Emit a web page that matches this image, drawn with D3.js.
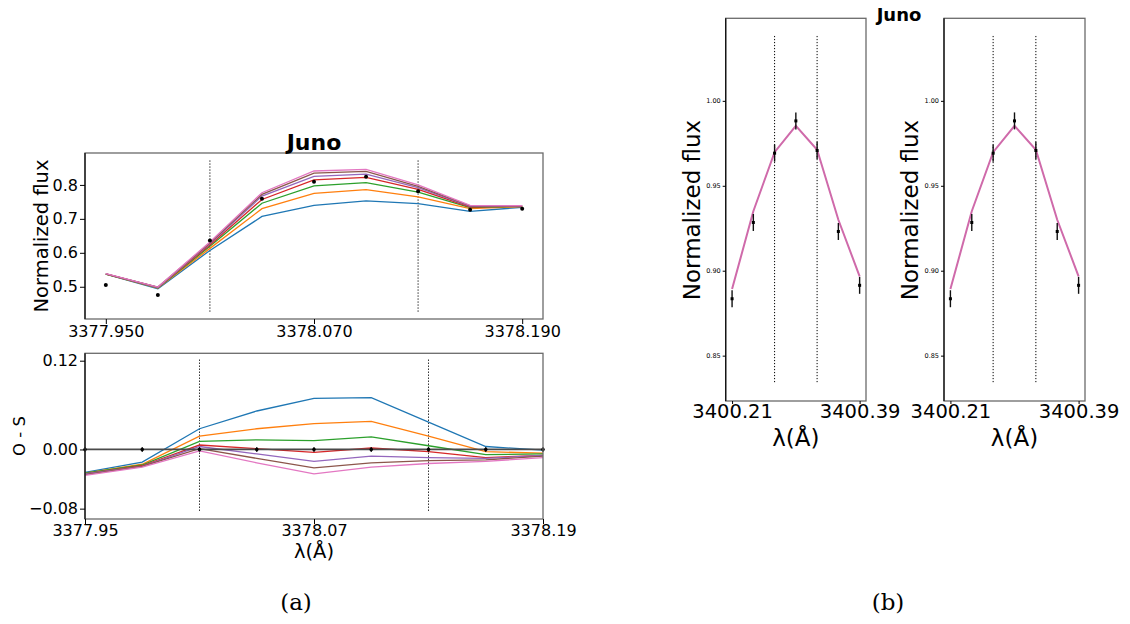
<!DOCTYPE html>
<html><head><meta charset="utf-8">
<script src="https://cdn.jsdelivr.net/npm/d3@7"></script>
<style>
body{margin:0;background:#fff}
text{font-family:"DejaVu Sans",sans-serif;fill:#000}
</style>
</head><body>
<svg id="c" width="1130" height="624"></svg>
<script>
// ---------------- data ----------------
const seriesColors = ["#1f77b4","#ff7f0e","#2ca02c","#d62728","#9467bd","#8c564b","#e377c2"];
const waveA = [3377.95, 3377.98, 3378.01, 3378.04, 3378.07, 3378.10, 3378.13, 3378.16, 3378.19];
const obsA  = [0.505, 0.476, 0.636, 0.759, 0.809, 0.824, 0.781, 0.727, 0.730];
const synBlue   = [0.537, 0.494, 0.607, 0.707, 0.740, 0.753, 0.745, 0.722, 0.734];
const synOrange = [0.537, 0.496, 0.613, 0.730, 0.775, 0.786, 0.765, 0.730, 0.736];
const synGreen  = [0.537, 0.497, 0.619, 0.746, 0.797, 0.807, 0.779, 0.733, 0.737];
const synRed    = [0.538, 0.498, 0.623, 0.757, 0.815, 0.822, 0.787, 0.735, 0.737];
const synPurple = [0.538, 0.498, 0.627, 0.767, 0.825, 0.832, 0.792, 0.737, 0.738];
const synBrown  = [0.538, 0.499, 0.629, 0.772, 0.835, 0.840, 0.796, 0.738, 0.738];
const synPink   = [0.539, 0.499, 0.632, 0.777, 0.841, 0.846, 0.800, 0.740, 0.739];
const resBlue   = [-0.031, -0.017, 0.028, 0.052, 0.069, 0.070, 0.037, 0.004, -0.001];
const resOrange = [-0.032, -0.020, 0.018, 0.028, 0.035, 0.038, 0.018, -0.003, -0.005];
const resGreen  = [-0.032, -0.021, 0.011, 0.013, 0.012, 0.017, 0.005, -0.007, -0.006];
const resRed    = [-0.033, -0.022, 0.006, 0.001, -0.004, 0.002, -0.003, -0.011, -0.008];
const resPurple = [-0.033, -0.023, 0.004, -0.006, -0.016, -0.009, -0.011, -0.012, -0.008];
const resBrown  = [-0.034, -0.023, 0.001, -0.012, -0.025, -0.018, -0.015, -0.014, -0.009];
const resPink   = [-0.035, -0.024, -0.002, -0.018, -0.033, -0.024, -0.019, -0.016, -0.011];
const resObs    = [0, 0, 0, 0, 0, 0, 0, 0, 0];
const resErr    = [0.003, 0.003, 0.003, 0.003, 0.003, 0.003, 0.003, 0.003, 0.003];
const lineMarksA = [3378.01, 3378.13];
const xTicksTop = [3377.950, 3378.070, 3378.190];
const yTicksTop = [0.5, 0.6, 0.7, 0.8];
const xTicksBot = [3377.95, 3378.07, 3378.19];
const yTicksBot = [-0.08, 0.00, 0.12];

const waveB  = [3400.21, 3400.24, 3400.27, 3400.30, 3400.33, 3400.36, 3400.39];
const obsB   = [0.8835, 0.9284, 0.9692, 0.9882, 0.9708, 0.9231, 0.8914];
const errB   = [0.005, 0.005, 0.005, 0.005, 0.005, 0.005, 0.005];
const modelB = [0.8892, 0.9350, 0.9698, 0.9853, 0.9712, 0.9300, 0.8967];
const lineMarksB = [3400.27, 3400.33];
const xTicksB = [3400.21, 3400.39];
const yTicksB = [0.85, 0.90, 0.95, 1.00];

const synA = [synBlue, synOrange, synGreen, synRed, synPurple, synBrown, synPink];
const resA = [resBlue, resOrange, resGreen, resRed, resPurple, resBrown, resPink];

// ---------------- drawing ----------------
const svg = d3.select("#c");

function frame(x, y) {
  const [x0, x1] = x.range(), [y0, y1] = y.range();
  svg.append("rect").attr("x", x0).attr("y", y1).attr("width", x1 - x0).attr("height", y0 - y1)
    .attr("fill", "none").attr("stroke", "#6a6a6a").attr("stroke-width", 1.3);
  svg.append("line").attr("x1", x0).attr("x2", x0).attr("y1", y1).attr("y2", y0)
    .attr("stroke", "#111").attr("stroke-width", 1.3);
}
function axes(x, y, xt, xf, yt, yf, fsX, fsY, ts) {
  const gx = svg.append("g").attr("transform", `translate(0,${y.range()[0]})`)
    .call(d3.axisBottom(x).tickValues(xt).tickFormat(xf).tickSize(ts).tickPadding(2));
  gx.select(".domain").remove();
  gx.selectAll("text").attr("font-size", fsX).attr("font-family", "DejaVu Sans").attr("fill", "#000");
  const gy = svg.append("g").attr("transform", `translate(${x.range()[0]},0)`)
    .call(d3.axisLeft(y).tickValues(yt).tickFormat(yf).tickSize(ts).tickPadding(2));
  gy.select(".domain").remove();
  return [gx, gy];
}
function vlines(x, y, vals, lo, hi) {
  svg.append("g").selectAll("line").data(vals).join("line")
    .attr("x1", d => x(d)).attr("x2", d => x(d)).attr("y1", y(hi)).attr("y2", y(lo))
    .attr("stroke", "#000").attr("stroke-width", 1).attr("stroke-dasharray", "1.2,1.8");
}

// ---- Panel (a) top ----
const xa = d3.scaleLinear().domain([3377.938, 3378.202]).range([85, 543]);
const ya = d3.scaleLinear().domain([0.405, 0.894]).range([319, 153]);
vlines(xa, ya, lineMarksA, 0.4245, 0.872);
synA.forEach((s, i) => {
  svg.append("path").datum(s.map((v, j) => [waveA[j], v]))
    .attr("fill", "none").attr("stroke", seriesColors[i]).attr("stroke-width", 1.3)
    .attr("d", d3.line().x(d => xa(d[0])).y(d => ya(d[1])));
});
svg.append("g").selectAll("circle").data(obsA).join("circle")
  .attr("cx", (d, j) => xa(waveA[j])).attr("cy", d => ya(d)).attr("r", 2).attr("fill", "#000");
frame(xa, ya);
{
  const [gx, gy] = axes(xa, ya, xTicksTop, d3.format(".3f"), yTicksTop, d3.format(".1f"), 16, 16, 5);
  gy.selectAll("text").attr("font-size", 16).attr("font-family", "DejaVu Sans").attr("fill", "#000");
}
svg.append("text").attr("x", 314).attr("y", 150).attr("text-anchor", "middle")
  .attr("font-weight", "bold").attr("font-size", 22).text("Juno");
svg.append("text").attr("transform", `translate(48,236) rotate(-90)`).attr("text-anchor", "middle")
  .attr("font-size", 19.5).text("Normalized flux");

// ---- Panel (a) bottom ----
const xr = d3.scaleLinear().domain([3377.95, 3378.19]).range([85, 543]);
const yr = d3.scaleLinear().domain([-0.094, 0.130]).range([519, 353.3]);
vlines(xr, yr, lineMarksA, -0.085, 0.1215);
resA.forEach((s, i) => {
  svg.append("path").datum(s.map((v, j) => [waveA[j], v]))
    .attr("fill", "none").attr("stroke", seriesColors[i]).attr("stroke-width", 1.3)
    .attr("d", d3.line().x(d => xr(d[0])).y(d => yr(d[1])));
});
svg.append("path").datum(resObs.map((v, j) => [waveA[j], v]))
  .attr("fill", "none").attr("stroke", "#4a4a4a").attr("stroke-width", 1.8)
  .attr("d", d3.line().x(d => xr(d[0])).y(d => yr(d[1])));
svg.append("g").selectAll("line").data(resObs).join("line")
  .attr("x1", (d, j) => xr(waveA[j])).attr("x2", (d, j) => xr(waveA[j]))
  .attr("y1", (d, j) => yr(d + resErr[j])).attr("y2", (d, j) => yr(d - resErr[j]))
  .attr("stroke", "#000").attr("stroke-width", 1.5);
svg.append("g").selectAll("circle").data(resObs).join("circle")
  .attr("cx", (d, j) => xr(waveA[j])).attr("cy", d => yr(d)).attr("r", 1.8).attr("fill", "#000");
frame(xr, yr);
{
  const [gx, gy] = axes(xr, yr, xTicksBot, d3.format(".2f"), yTicksBot, d3.format(".2f"), 16, 16, 5);
  gx.selectAll("text").attr("dy", "0.62em");
  gy.selectAll("text").attr("font-size", 16).attr("font-family", "DejaVu Sans").attr("fill", "#000");
}
svg.append("text").attr("transform", `translate(25,436) rotate(-90)`).attr("text-anchor", "middle")
  .attr("font-size", 16.5).text("O - S");
svg.append("text").attr("x", 314).attr("y", 558).attr("text-anchor", "middle")
  .attr("font-size", 19.5).text("λ(Å)");
svg.append("text").attr("x", 296).attr("y", 610).attr("text-anchor", "middle")
  .attr("font-size", 23).style("font-family", "'DejaVu Serif', serif").text("(a)");

// ---- Panels (b) ----
[[725.7, 866], [944, 1085]].forEach(([l, r], k) => {
  const xb = d3.scaleLinear().domain([3400.201, 3400.399]).range([l, r]);
  const yb = d3.scaleLinear().domain([0.8233, 1.0486]).range([401, 18.3]);
  vlines(xb, yb, lineMarksB, 0.8338, 1.0382);
  svg.append("path").datum(modelB.map((v, j) => [waveB[j], v]))
    .attr("fill", "none").attr("stroke", "#cf6aaa").attr("stroke-width", 2)
    .attr("d", d3.line().x(d => xb(d[0])).y(d => yb(d[1])));
  svg.append("g").selectAll("line").data(obsB).join("line")
    .attr("x1", (d, j) => xb(waveB[j])).attr("x2", (d, j) => xb(waveB[j]))
    .attr("y1", (d, j) => yb(d + errB[j])).attr("y2", (d, j) => yb(d - errB[j]))
    .attr("stroke", "#111").attr("stroke-width", 1.4);
  svg.append("g").selectAll("rect").data(obsB).join("rect")
    .attr("x", (d, j) => xb(waveB[j]) - 1.5).attr("y", d => yb(d) - 1.5)
    .attr("width", 3).attr("height", 3).attr("fill", "#000");
  frame(xb, yb);
  const [gx, gy] = axes(xb, yb, xTicksB, d3.format(".2f"), yTicksB, d3.format(".2f"), 19.5, 6.5, 3);
  gx.selectAll("text").attr("dy", "0.62em");
  gy.selectAll("text").attr("font-size", 6.5).attr("font-family", "DejaVu Sans").attr("fill", "#333");
  svg.append("text").attr("transform", `translate(${l - 26},210) rotate(-90)`).attr("text-anchor", "middle")
    .attr("font-size", 23).text("Normalized flux");
  svg.append("text").attr("x", (l + r) / 2).attr("y", 446).attr("text-anchor", "middle")
    .attr("font-size", 23).text("λ(Å)");
});
svg.append("text").attr("x", 899).attr("y", 21).attr("text-anchor", "middle")
  .attr("font-weight", "bold").attr("font-size", 18).text("Juno");
svg.append("text").attr("x", 888).attr("y", 610).attr("text-anchor", "middle")
  .attr("font-size", 23).style("font-family", "'DejaVu Serif', serif").text("(b)");
</script>
</body></html>
